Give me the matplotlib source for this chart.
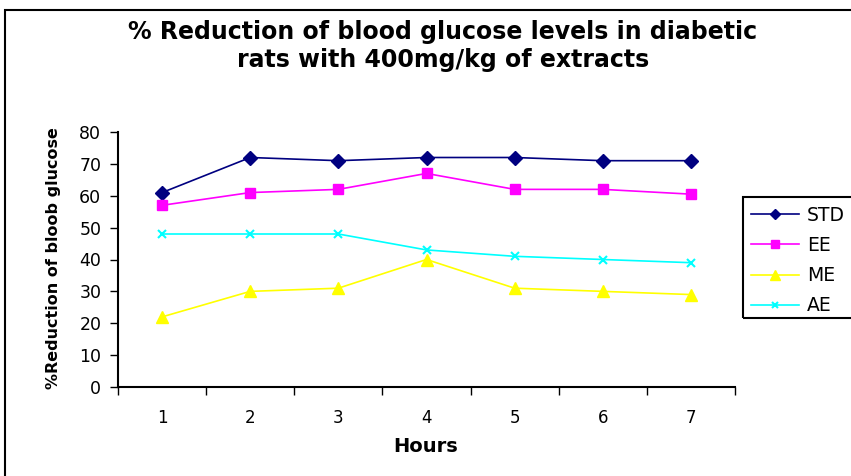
import numpy as np
import matplotlib
matplotlib.use("Agg")
import matplotlib.pyplot as plt
from matplotlib.patches import Rectangle

plt.rcParams["font.family"] = ["DejaVu Sans"]

hours = [1, 2, 3, 4, 5, 6, 7]
std = [61, 72, 71, 72, 72, 71, 71]
ee = [57, 61, 62, 67, 62, 62, 60.5]
me = [22, 30, 31, 40, 31, 30, 29]
ae = [48, 48, 48, 43, 41, 40, 39]

W, H = 851, 476
fig = plt.figure(figsize=(W / 100, H / 100), dpi=100)
ax = fig.add_axes([118 / W, 1 - 387 / H, (735 - 118) / W, (387 - 132) / H])

x = np.arange(1, len(hours) + 1)
ax.plot(x, std, color="#000080", marker="D", ms=7, lw=1.2, label="STD")
ax.plot(x, ee, color="#FF00FF", marker="s", ms=7, lw=1.2, label="EE")
ax.plot(x, me, color="#FFFF00", marker="^", ms=9, lw=1.2, label="ME")
ax.plot(x, ae, color="#00FFFF", marker="x", ms=6, mew=1.5, lw=1.2, label="AE")

ax.set_xlim(0.5, len(hours) + 0.5)
ax.set_ylim(0, 80)
ax.set_yticks(range(0, 81, 10))
ax.set_xticks(x)
ax.set_xticklabels([str(h) for h in hours])
# category boundary ticks
ax.set_xticks(np.arange(0.5, len(hours) + 1, 1), minor=True)
ax.tick_params(axis="x", which="major", length=0, pad=16, labelsize=12)
ax.tick_params(axis="x", which="minor", length=6, width=1, direction="out")
ax.tick_params(axis="y", length=6, width=1, direction="out", labelsize=12.5, pad=6)

for side in ["top", "right"]:
    ax.spines[side].set_visible(False)
for side in ["left", "bottom"]:
    ax.spines[side].set_linewidth(1.5)

fig.text(426 / W, 1 - 446 / H, "Hours", ha="center", va="center",
         fontsize=14, fontweight="bold")
fig.text(54 / W, 1 - 258 / H, "%Reduction of bloob glucose", ha="center", va="center",
         rotation=90, fontsize=11.5, fontweight="bold")

fig.text(443 / W, 1 - 39 / H, "% Reduction of blood glucose levels in diabetic",
         ha="center", va="baseline", fontsize=17, fontweight="bold")
fig.text(443 / W, 1 - 67 / H, "rats with 400mg/kg of extracts",
         ha="center", va="baseline", fontsize=17, fontweight="bold")

# legend box runs off the right edge, as in the source chart
leg = fig.legend(loc="upper left", bbox_to_anchor=(745 / W, 1 - 200 / H),
                 fontsize=13.5, frameon=False, handlelength=2.6,
                 borderpad=0.3, labelspacing=0.6, handletextpad=0.4,
                 borderaxespad=0)
for h in leg.legend_handles:
    h.set_markersize(h.get_markersize() * 0.8)
fig.patches.append(Rectangle((743 / W, 1 - 318 / H), 0.3, 121 / H, transform=fig.transFigure,
                             fill=False, edgecolor="black", linewidth=1.5))

fig.patches.append(Rectangle((5 / W, -0.1), 1.2, 1.1 - 10 / H, transform=fig.transFigure,
                             fill=False, edgecolor="black", linewidth=1.5))

fig.savefig("out.png", dpi=100)
